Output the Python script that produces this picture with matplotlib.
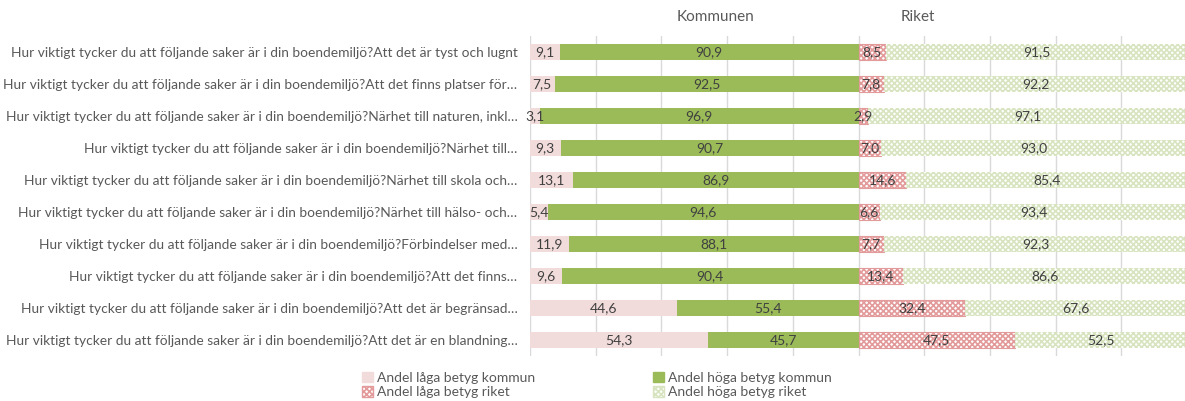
import numpy as np
import matplotlib.pyplot as plt
from matplotlib.patches import Patch

prefix = "Hur viktigt tycker du att följande saker är i din boendemiljö?"
questions = [
    "Att det är tyst och lugnt",
    "Att det finns platser för…",
    "Närhet till naturen, inkl…",
    "Närhet till…",
    "Närhet till skola och…",
    "Närhet till hälso- och…",
    "Förbindelser med…",
    "Att det finns…",
    "Att det är begränsad…",
    "Att det är en blandning…",
]
labels = [prefix + q for q in questions]

kommun_low = [9.1, 7.5, 3.1, 9.3, 13.1, 5.4, 11.9, 9.6, 44.6, 54.3]
kommun_high = [90.9, 92.5, 96.9, 90.7, 86.9, 94.6, 88.1, 90.4, 55.4, 45.7]
riket_low = [8.5, 7.8, 2.9, 7.0, 14.6, 6.6, 7.7, 13.4, 32.4, 47.5]
riket_high = [91.5, 92.2, 97.1, 93.0, 85.4, 93.4, 92.3, 86.6, 67.6, 52.5]

pink = "#F2DCDB"
green = "#9BBB59"
red_hatch = "#E39A9A"
green_hatch = "#D7E4BF"
txt = "#595959"

plt.rcParams["font.family"] = "Lato"
plt.rcParams["hatch.linewidth"] = 1.2

fig = plt.figure(figsize=(11.85, 4.01), dpi=100)
ax = fig.add_axes([530 / 1185, 45 / 401, 657 / 1185, 320 / 401])

y = np.arange(len(labels))
h = 0.53

# kommunen: 0..100, riket: 100..200
ax.barh(y, kommun_low, left=0, height=h, color=pink)
ax.barh(y, kommun_high, left=kommun_low, height=h, color=green)
riket_start = 100
ax.barh(y, riket_low, left=riket_start, height=h, facecolor="white",
        edgecolor=red_hatch, hatch="xxxxxx", linewidth=0.8)
ax.barh(y, riket_high, left=riket_start + np.array(riket_low), height=h,
        facecolor="white", edgecolor=green_hatch, hatch="xxxxxx", linewidth=0)

def fmt(v):
    return f"{v:.1f}".replace(".", ",")

for i in range(len(labels)):
    segs = [(0, kommun_low[i]), (kommun_low[i], kommun_high[i]),
            (riket_start, riket_low[i]), (riket_start + riket_low[i], riket_high[i])]
    for left, w in segs:
        ax.text(left + w / 2, i, fmt(w), ha="center", va="center",
                fontsize=10, color="#404040")

ax.set_xlim(0, 200)
ax.set_ylim(len(labels) - 0.5, -0.5)
ax.set_xticks(np.arange(0, 201, 20))
ax.xaxis.grid(True, color="#D9D9D9", linewidth=1)
ax.set_axisbelow(True)
ax.tick_params(axis="x", length=0, labelbottom=False)
ax.set_yticks(y)
ax.set_yticklabels(labels, fontsize=9.9, color=txt)
ax.tick_params(axis="y", length=0, pad=9)
for s in ax.spines.values():
    s.set_visible(False)

fig.text(716 / 1185, 1 - 17 / 401, "Kommunen", ha="center", va="center",
         fontsize=11, color=txt)
fig.text(918 / 1185, 1 - 17 / 401, "Riket", ha="center", va="center",
         fontsize=11, color=txt)

handles = [
    Patch(facecolor=pink, edgecolor=pink, label="Andel låga betyg kommun"),
    Patch(facecolor="white", edgecolor=red_hatch, hatch="xxxxxx", label="Andel låga betyg riket"),
    Patch(facecolor=green, edgecolor=green, label="Andel höga betyg kommun"),
    Patch(facecolor="white", edgecolor=green_hatch, hatch="xxxxxx", label="Andel höga betyg riket"),
]
fig.legend(handles=handles, ncol=2, loc="center", bbox_to_anchor=(597 / 1185, 1 - 385 / 401),
           frameon=False, fontsize=10, labelcolor=txt, handlelength=0.8, handleheight=0.8,
           handletextpad=0.3, columnspacing=8.5, labelspacing=0.15, borderpad=0)

fig.savefig("out.png", dpi=100)
